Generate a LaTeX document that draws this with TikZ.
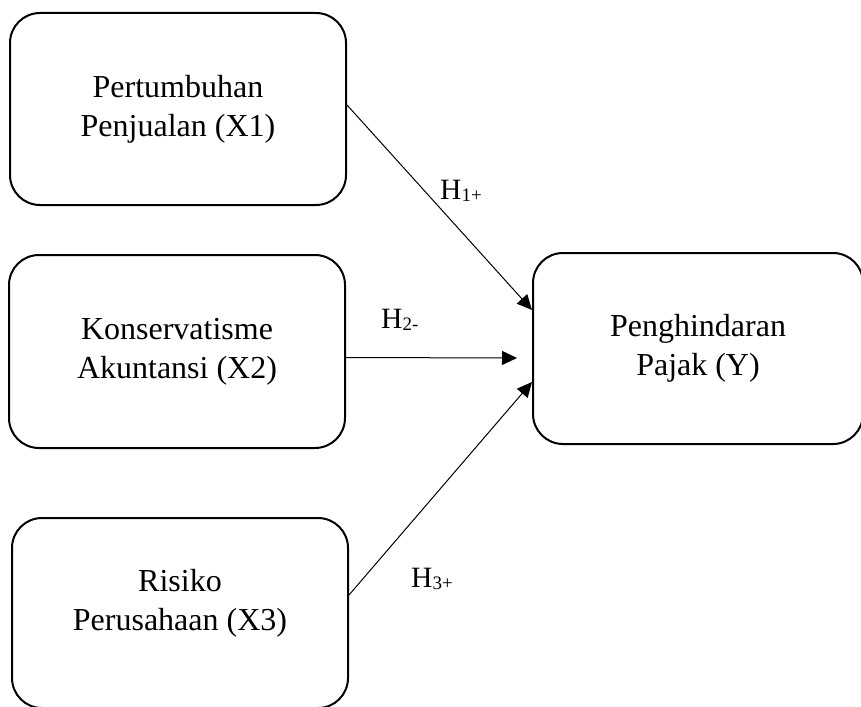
\documentclass[tikz,border=0pt]{standalone}
\usepackage{fontspec}
\setmainfont{Liberation Serif}
\usetikzlibrary{arrows.meta}
\tikzset{
  boxfont/.style={font=\fontsize{32}{39}\selectfont},
  box/.style={draw, line width=2pt, rounded corners=30pt, rectangle, minimum width=#1, align=center, boxfont},
  box/.default=336pt,
  arr/.style={line width=1pt, -{Triangle[length=15pt,width=14pt]}},
  hyp/.style={anchor=base west, inner sep=0pt, font=\fontsize{29.5}{36}\selectfont}
}
\newcommand{\hsub}[1]{\raisebox{-2pt}{\fontsize{19}{19}\selectfont #1}}
\begin{document}
\begin{tikzpicture}[x=1pt,y=-1pt]
\useasboundingbox (0,0) rectangle (861,706);
\clip (0,0) rectangle (861,706);
\node[box, minimum height=192pt] (X1) at (178,109) {Pertumbuhan\\Penjualan (X1)};
\node[box, minimum height=193pt] (X2) at (177,351.5) {Konservatisme\\Akuntansi (X2)};
\node[box, minimum height=190pt, label={[boxfont, align=center, yshift=10pt]center:Risiko\\Perusahaan (X3)}] (X3) at (180,613) {};
\node[box=330pt, minimum height=191pt] (Y) at (698,348.5) {Penghindaran\\Pajak (Y)};
\draw[arr] ([yshift=4pt]X1.east) -- ([yshift=38.5pt]Y.west);
\draw[arr] ([yshift=-6pt]X2.east) -- ([xshift=-15pt,yshift=-9.5pt]Y.west);
\draw[arr] ([yshift=18pt]X3.east) -- ([yshift=-33.5pt]Y.west);
\node[hyp] (h1) at (440,199) {H\hsub{1+}};
\node[hyp] (h2) at (381,328) {H\hsub{2-}};
\node[hyp] (h3) at (411,587) {H\hsub{3+}};
\end{tikzpicture}
\end{document}
